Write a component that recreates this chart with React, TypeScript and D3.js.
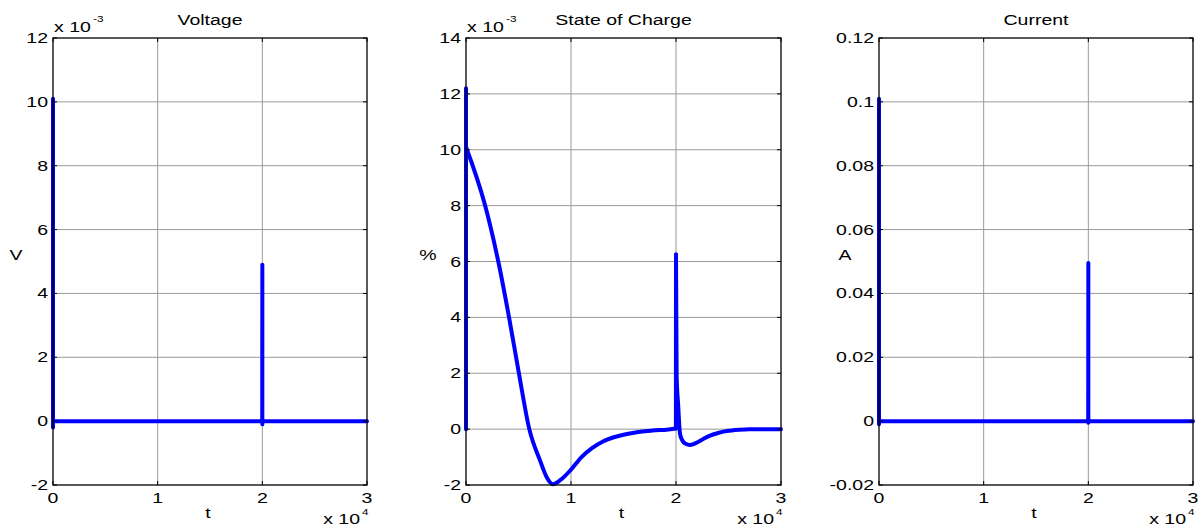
import React from "react";
import * as d3 from "d3";

// ---- data ----
const voltageT = [0, 0, 0, 19990, 20000, 20000, 20010, 30000];
const voltageV = [-0.0002, 0.0101, 0, 0, 0.0049, -0.0001, 0, 0];

const currentT = [0, 0, 0, 19990, 20000, 20000, 20010, 30000];
const currentV = [-0.001, 0.101, 0, 0, 0.0495, -0.0005, 0, 0];

// state of charge, in units of 1e-3
const socT = [0, 0, 0, 1810, 3080, 4095, 5048, 6030, 7048, 7686, 8257, 9000, 10000, 11000, 12000, 13000, 14000, 15000, 16000, 17000, 18000, 19100, 19990, 20000, 20060, 20200, 20380, 20600, 20900, 21333, 22000, 22600, 23240, 24000, 24830, 26000, 27000, 30000];
const socV = [0, 12.2, 10.1, 8.02, 5.99, 4.01, 1.98, 0, -1.12, -1.72, -1.97, -1.82, -1.45, -1.0, -0.68, -0.45, -0.3, -0.2, -0.13, -0.08, -0.04, -0.02, 0.02, 6.25, 1.9, 0.9, -0.16, -0.4, -0.52, -0.57, -0.48, -0.35, -0.23, -0.14, -0.07, -0.02, 0, 0];

const xTicks = [0, 10000, 20000, 30000];
const xTickLabels = ["0", "1", "2", "3"];

const voltTicks = [-2, 0, 2, 4, 6, 8, 10, 12];
const socTicks = [-2, 0, 2, 4, 6, 8, 10, 12, 14];
const currTicks = [-0.02, 0, 0.02, 0.04, 0.06, 0.08, 0.1, 0.12];
const currTickLabels = ["-0.02", "0", "0.02", "0.04", "0.06", "0.08", "0.1", "0.12"];

const FONT = "Liberation Sans, Arial, sans-serif";
const SX = 1.3;

function T(props: { x: number; y: number; size?: number; anchor?: string; children: React.ReactNode }) {
  return (
    <text
      transform={`translate(${props.x},${props.y}) scale(${SX},1)`}
      textAnchor={props.anchor || "start"}
      fontSize={props.size || 15}
      fontFamily={FONT}
      fill="#000"
    >
      {props.children}
    </text>
  );
}

type PanelProps = {
  left: number;
  right: number;
  title: string;
  ylabel: string;
  ylabelX: number;
  ts: number[];
  vs: number[];
  yScaleFactor: number;
  yTicks: number[];
  yTickLabels: string[];
  exponent: string | null;
  smooth: boolean;
};

const TOP = 38;
const BOTTOM = 485;

// split a series into runs: vertical jumps (same t) drawn straight, the rest smooth
function segments(pts: [number, number][]): { pts: [number, number][]; smooth: boolean }[] {
  const out: { pts: [number, number][]; smooth: boolean }[] = [];
  let cur: [number, number][] = [pts[0]];
  let curSmooth: boolean | null = null;
  for (let i = 1; i < pts.length; i++) {
    const isVert = pts[i][0] - pts[i - 1][0] <= 10;
    const sm = !isVert;
    if (curSmooth === null || curSmooth === sm) {
      cur.push(pts[i]);
      curSmooth = sm;
    } else {
      out.push({ pts: cur, smooth: curSmooth });
      cur = [pts[i - 1], pts[i]];
      curSmooth = sm;
    }
  }
  out.push({ pts: cur, smooth: !!curSmooth });
  return out;
}

function Panel(p: PanelProps) {
  const x = d3.scaleLinear().domain([0, 30000]).range([p.left, p.right]);
  const y = d3
    .scaleLinear()
    .domain([p.yTicks[0], p.yTicks[p.yTicks.length - 1]])
    .range([BOTTOM, TOP]);
  const pts: [number, number][] = p.ts.map((t, i) => [t, p.vs[i] * p.yScaleFactor]);
  const linear = d3
    .line<[number, number]>()
    .x((d) => x(d[0]))
    .y((d) => y(d[1]));
  const smooth = d3
    .line<[number, number]>()
    .x((d) => x(d[0]))
    .y((d) => y(d[1]))
    .curve(d3.curveMonotoneX);
  const segs = p.smooth ? segments(pts) : [{ pts, smooth: false }];
  const tl = 4;
  const cx = (p.left + p.right) / 2;
  return (
    <g>
      {xTicks.slice(1, -1).map((t) => (
        <line key={"gx" + t} x1={x(t)} x2={x(t)} y1={TOP} y2={BOTTOM} stroke="#9a9a9a" strokeWidth={1} />
      ))}
      {p.yTicks.slice(1, -1).map((t) => (
        <line key={"gy" + t} x1={p.left} x2={p.right} y1={y(t)} y2={y(t)} stroke="#9a9a9a" strokeWidth={1} />
      ))}
      {segs.map((s, i) => (
        <path
          key={"s" + i}
          d={(s.smooth ? smooth(s.pts) : linear(s.pts)) || ""}
          fill="none"
          stroke="#0000ff"
          strokeWidth={4}
          strokeLinejoin="round"
          strokeLinecap="round"
        />
      ))}
      <rect x={p.left} y={TOP} width={p.right - p.left} height={BOTTOM - TOP} fill="none" stroke="#000" strokeWidth={1.3} />
      {xTicks.map((t) => (
        <g key={"tx" + t}>
          <line x1={x(t)} x2={x(t)} y1={BOTTOM} y2={BOTTOM - tl} stroke="#000" />
          <line x1={x(t)} x2={x(t)} y1={TOP} y2={TOP + tl} stroke="#000" />
        </g>
      ))}
      {p.yTicks.map((t) => (
        <g key={"ty" + t}>
          <line x1={p.left} x2={p.left + tl} y1={y(t)} y2={y(t)} stroke="#000" />
          <line x1={p.right} x2={p.right - tl} y1={y(t)} y2={y(t)} stroke="#000" />
        </g>
      ))}
      {xTicks.map((t, i) => (
        <T key={"lx" + t} x={x(t)} y={BOTTOM + 18} anchor="middle">
          {xTickLabels[i]}
        </T>
      ))}
      {p.yTicks.map((t, i) => (
        <T key={"ly" + t} x={p.left - 5} y={y(t) + 5} anchor="end">
          {p.yTickLabels[i]}
        </T>
      ))}
      <T x={cx - 2} y={BOTTOM + 33} anchor="middle">t</T>
      <T x={p.right - 7} y={BOTTOM + 39} anchor="end" size={15}>x 10</T>
      <T x={p.right - 5} y={BOTTOM + 30} size={9}>4</T>
      <T x={p.ylabelX} y={(TOP + BOTTOM) / 2 - 2} anchor="middle">{p.ylabel}</T>
      {p.exponent && (
        <g>
          <T x={p.left + 1} y={TOP - 6} size={15}>x 10</T>
          <T x={p.left + 40} y={TOP - 16} size={9}>{p.exponent}</T>
        </g>
      )}
      <T x={cx} y={TOP - 13} anchor="middle">{p.title}</T>
    </g>
  );
}

export default function App() {
  return (
    <svg width={1202} height={531} style={{ position: "absolute", left: 0, top: 0, background: "#fff" }}>
      <rect x={0} y={0} width={1202} height={531} fill="#fff" />
      <Panel left={53} right={367} title="Voltage" ylabel="V" ylabelX={16} ts={voltageT} vs={voltageV} yScaleFactor={1000}
        yTicks={voltTicks} yTickLabels={voltTicks.map(String)} exponent="-3" smooth={false} />
      <Panel left={466} right={781} title="State of Charge" ylabel="%" ylabelX={428} ts={socT} vs={socV} yScaleFactor={1}
        yTicks={socTicks} yTickLabels={socTicks.map(String)} exponent="-3" smooth={true} />
      <Panel left={879} right={1193} title="Current" ylabel="A" ylabelX={845} ts={currentT} vs={currentV} yScaleFactor={1}
        yTicks={currTicks} yTickLabels={currTickLabels} exponent={null} smooth={false} />
    </svg>
  );
}
